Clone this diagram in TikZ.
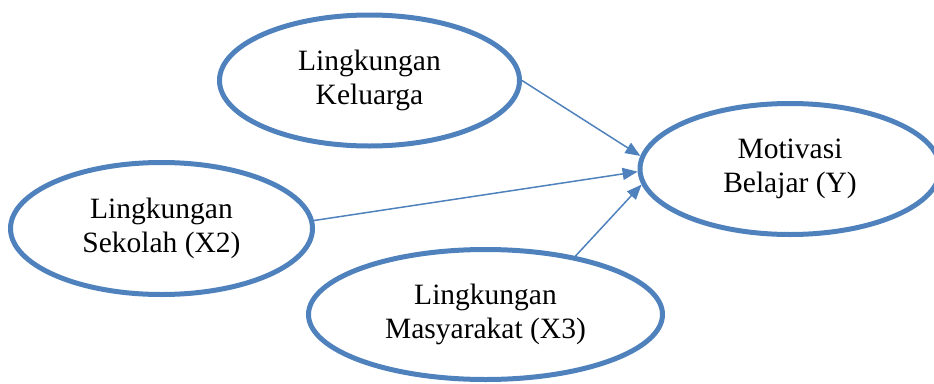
\documentclass[tikz,border=0pt]{standalone}
\usepackage{fontspec}
\setmainfont{Liberation Serif}
\usetikzlibrary{shapes.geometric,arrows.meta}
\definecolor{ovalblue}{HTML}{4F81BD}
\tikzset{
  oval/.style={ellipse, draw=ovalblue, line width=5pt, align=center,
    inner sep=0pt, font=\fontsize{29.5}{34.5}\selectfont},
  link/.style={draw=ovalblue, line width=1.5pt,
    -{Triangle[length=15pt,width=12pt]}}
}
\begin{document}
\begin{tikzpicture}[x=1pt,y=-1pt]
\useasboundingbox (0,0) rectangle (934,383);
\clip (0,0) rectangle (934,383);
\node[oval, minimum width=300pt, minimum height=131pt] (k) at (369.5,80.5) {Lingkungan\\Keluarga};
\node[oval, minimum width=300pt, minimum height=131pt] (y) at (790,169) {Motivasi\\Belajar (Y)};
\node[oval, minimum width=302pt, minimum height=132pt] (s) at (161.5,228.5) {Lingkungan\\Sekolah (X2)};
\node[oval, minimum width=354pt, minimum height=130pt] (m) at (485.5,314.5) {Lingkungan\\Masyarakat (X3)};
\draw[link] (k.east) -- (y.175.4);
\draw[link] (s.3.1) -- (y.181);
\draw[link] (m.33.6) -- (y.186.2);
\end{tikzpicture}
\end{document}
